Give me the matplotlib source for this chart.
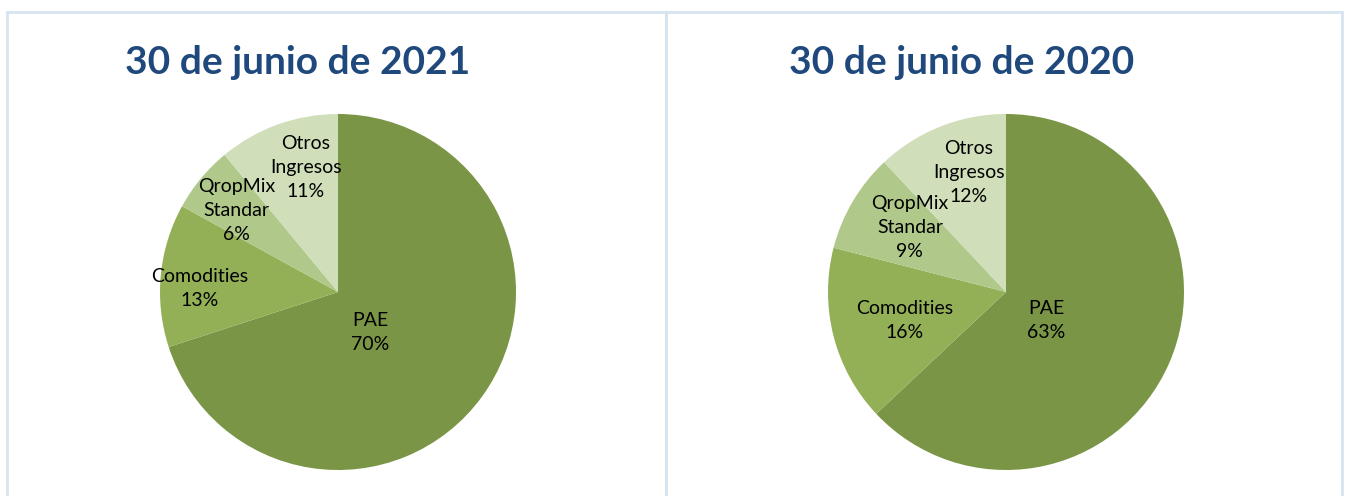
import matplotlib
matplotlib.use("Agg")
import matplotlib.pyplot as plt
from matplotlib.patches import Rectangle

# ---- data ----
categories = ["PAE", "Comodities", "QropMix\nStandar", "Otros\nIngresos"]
values_2021 = [70, 13, 6, 11]
values_2020 = [63, 16, 9, 12]
titles = ["30 de junio de 2021", "30 de junio de 2020"]

# ---- style ----
colors = ["#7a9545", "#93b057", "#b0c98b", "#d0dfba"]
title_color = "#1f497d"
border_color = "#d6e3f1"
# label positions (x, y) in pie units (radius = 1)
label_pos_2021 = [(0.18, -0.23), (-0.775, 0.02), (-0.57, 0.46), (-0.18, 0.70)]
label_pos_2020 = [(0.225, -0.16), (-0.57, -0.16), (-0.54, 0.365), (-0.21, 0.67)]

W, H = 1346, 496
fig = plt.figure(figsize=(W / 100, H / 100), dpi=100)
fig.patch.set_facecolor("white")

# panel borders (pixel coords converted to figure fraction)
def px_rect(x0, y0, x1, y1):
    return Rectangle((x0 / W, 1 - y1 / H), (x1 - x0) / W, (y1 - y0) / H,
                     transform=fig.transFigure, fill=False,
                     edgecolor=border_color, linewidth=2, clip_on=False)

fig.patches.append(px_rect(7, 12, 666, 520))
fig.patches.append(px_rect(666, 12, 1342, 520))

R = 178
centers = [(338, 292), (1006, 292)]
title_x = [298, 962]
datasets = [values_2021, values_2020]
label_sets = [label_pos_2021, label_pos_2020]

for (cx, cy), vals, lpos, tx, title in zip(centers, datasets, label_sets, title_x, titles):
    ax = fig.add_axes([(cx - R) / W, (H - cy - R) / H, 2 * R / W, 2 * R / H])
    ax.pie(vals, colors=colors, startangle=90, counterclock=False,
           radius=1, wedgeprops=dict(linewidth=0))
    ax.set_xlim(-1, 1)
    ax.set_ylim(-1, 1)
    ax.set_aspect("equal")
    ax.axis("off")
    for cat, v, (lx, ly) in zip(categories, vals, lpos):
        ax.text(lx, ly, f"{cat}\n{v}%", ha="center", va="center",
                fontsize=14, family="Lato", color="black", linespacing=1.5)
    fig.text(tx / W, 1 - 74 / H, title, ha="center", va="baseline",
             fontsize=28, fontweight="bold", family="Lato", color=title_color)

fig.savefig("out.png", dpi=100, facecolor="white")
